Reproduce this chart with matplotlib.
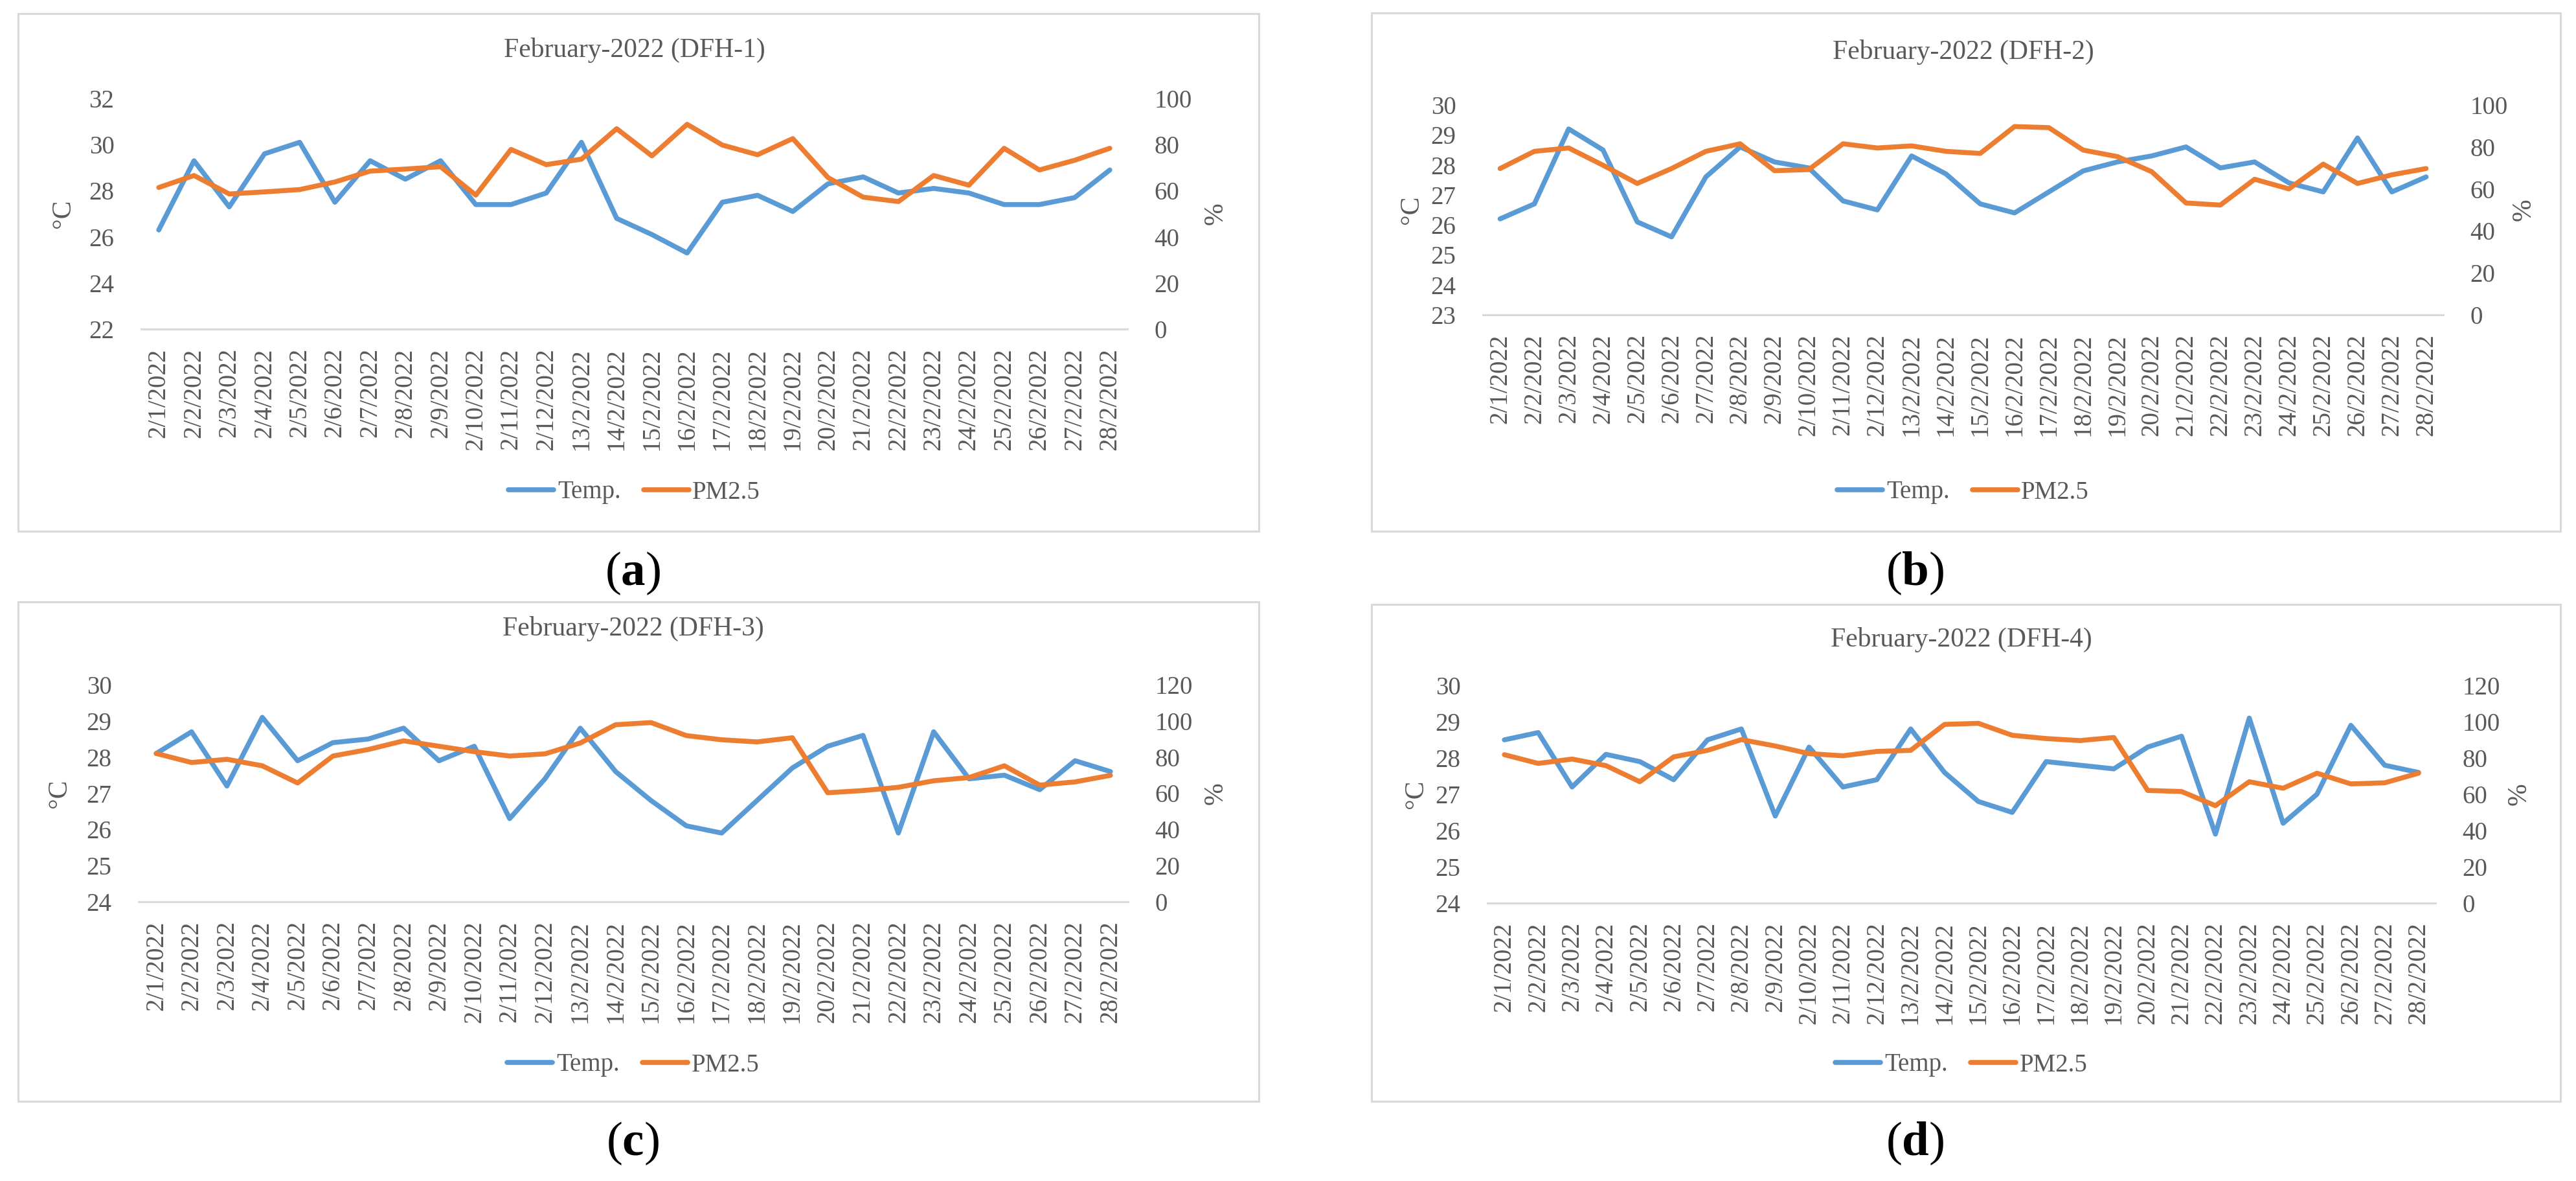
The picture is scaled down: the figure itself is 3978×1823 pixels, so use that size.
import matplotlib
matplotlib.use("Agg")
import matplotlib.pyplot as plt
from matplotlib.patches import Rectangle

plt.rcParams['font.family'] = ['Liberation Serif', 'DejaVu Serif']
plt.rcParams['mathtext.fontset'] = 'custom'
plt.rcParams['mathtext.rm'] = 'Liberation Serif'
plt.rcParams['mathtext.bf'] = 'Liberation Serif:bold'

dates = ['2/1/2022', '2/2/2022', '2/3/2022', '2/4/2022', '2/5/2022', '2/6/2022', '2/7/2022',
         '2/8/2022', '2/9/2022', '2/10/2022', '2/11/2022', '2/12/2022', '13/2/2022', '14/2/2022',
         '15/2/2022', '16/2/2022', '17/2/2022', '18/2/2022', '19/2/2022', '20/2/2022', '21/2/2022',
         '22/2/2022', '23/2/2022', '24/2/2022', '25/2/2022', '26/2/2022', '27/2/2022', '28/2/2022']

temp_a = [26.3, 29.3, 27.3, 29.6, 30.1, 27.5, 29.3, 28.5, 29.3, 27.4, 27.4, 27.9, 30.1, 26.8,
          26.1, 25.3, 27.5, 27.8, 27.1, 28.3, 28.6, 27.9, 28.1, 27.9, 27.4, 27.4, 27.7, 28.9]
pm_a = [61.4, 66.6, 58.6, 59.5, 60.5, 63.8, 68.5, 69.4, 70.4, 58.1, 77.9, 71.3, 73.7, 86.9,
        75.1, 88.8, 79.8, 75.6, 82.6, 65.7, 57.2, 55.3, 66.6, 62.4, 78.4, 69.0, 73.2, 78.4]

temp_b = [26.2, 26.7, 29.2, 28.5, 26.1, 25.6, 27.6, 28.6, 28.1, 27.9, 26.8, 26.5, 28.3, 27.7,
          26.7, 26.4, 27.1, 27.8, 28.1, 28.3, 28.6, 27.9, 28.1, 27.4, 27.1, 28.9, 27.1, 27.6]
pm_b = [69.7, 77.9, 79.5, 71.3, 62.6, 69.7, 77.9, 81.5, 68.7, 69.2, 81.5, 79.5, 80.5, 77.9,
        76.9, 89.7, 89.2, 78.5, 75.4, 68.2, 53.3, 52.3, 64.6, 60.0, 71.8, 62.6, 66.7, 69.7]

temp_c = [28.1, 28.7, 27.2, 29.1, 27.9, 28.4, 28.5, 28.8, 27.9, 28.3, 26.3, 27.4, 28.8, 27.6,
          26.8, 26.1, 25.9, 26.8, 27.7, 28.3, 28.6, 25.9, 28.7, 27.4, 27.5, 27.1, 27.9, 27.6]
pm_c = [82.0, 77.0, 78.8, 75.2, 65.7, 80.6, 84.2, 89.0, 86.0, 83.0, 80.6, 81.8, 87.8, 97.9,
        99.1, 91.9, 89.6, 88.4, 90.7, 60.3, 61.5, 63.3, 66.9, 68.7, 75.2, 64.5, 66.3, 69.9]

temp_d = [28.5, 28.7, 27.2, 28.1, 27.9, 27.4, 28.5, 28.8, 26.4, 28.3, 27.2, 27.4, 28.8, 27.6,
          26.8, 26.5, 27.9, 27.8, 27.7, 28.3, 28.6, 25.9, 29.1, 26.2, 27.0, 28.9, 27.8, 27.6]
pm_d = [81.8, 77.0, 79.4, 75.8, 66.9, 80.6, 84.2, 90.1, 86.6, 82.4, 81.2, 83.6, 84.2, 98.5,
        99.1, 92.5, 90.7, 89.6, 91.3, 62.1, 61.5, 53.7, 66.9, 63.3, 71.6, 65.7, 66.3, 71.6]

titles = ['February-2022 (DFH-1)', 'February-2022 (DFH-2)',
          'February-2022 (DFH-3)', 'February-2022 (DFH-4)']
letters = ['a', 'b', 'c', 'd']

W, H = 3978, 1823
BLUE = '#5B9BD5'
ORANGE = '#ED7D31'
TXT = '#595959'
GRID = '#D9D9D9'

# layout in pixels: box, axes area, title y, legend y, letter pos, y labels x
panels = [
    dict(temp=temp_a, pm=pm_a, box=(28, 21, 1944, 820), ax=(218, 152, 1741, 508),
         title_y=77, leg_y=760, lab=(977, 885), ylim=(22, 32), ystep=2, rlim=(0, 100),
         degx=98, pctx=1877),
    dict(temp=temp_b, pm=pm_b, box=(2118, 20, 3954, 820), ax=(2290, 162, 3773, 486),
         title_y=80, leg_y=760, lab=(2957, 885), ylim=(23, 30), ystep=1, rlim=(0, 100),
         degx=2180, pctx=3897),
    dict(temp=temp_c, pm=pm_c, box=(28, 929, 1944, 1700), ax=(214, 1057, 1742, 1392),
         title_y=970, leg_y=1644, lab=(977, 1765), ylim=(24, 30), ystep=1, rlim=(0, 120),
         degx=92, pctx=1877),
    dict(temp=temp_d, pm=pm_d, box=(2118, 933, 3954, 1700), ax=(2297, 1058, 3761, 1394),
         title_y=987, leg_y=1644, lab=(2957, 1765), ylim=(24, 30), ystep=1, rlim=(0, 120),
         degx=2187, pctx=3890),
]


def fx(px):
    return px / W


def fy(py):
    return 1 - py / H


fig = plt.figure(figsize=(W / 100, H / 100), dpi=100)

for i, p in enumerate(panels):
    bx0, by0, bx1, by1 = p['box']
    fig.patches.append(Rectangle((fx(bx0), fy(by1)), fx(bx1 - bx0), (by1 - by0) / H,
                                 transform=fig.transFigure, fill=False,
                                 edgecolor=GRID, linewidth=2.2))
    x0, y0, x1, y1 = p['ax']
    ax = fig.add_axes([fx(x0), fy(y1), fx(x1 - x0), (y1 - y0) / H])
    ax2 = ax.twinx()
    xs = list(range(len(dates)))
    l1, = ax.plot(xs, p['temp'], color=BLUE, lw=5.5, solid_joinstyle='round',
                  solid_capstyle='round', label='Temp.')
    l2, = ax2.plot(xs, p['pm'], color=ORANGE, lw=5.5, solid_joinstyle='round',
                   solid_capstyle='round', label='PM2.5')
    ax.set_xlim(-0.5, len(dates) - 0.5)
    ax.set_ylim(*p['ylim'])
    ax.set_yticks(range(p['ylim'][0], p['ylim'][1] + 1, p['ystep']))
    ax2.set_ylim(*p['rlim'])
    ax2.set_yticks(range(p['rlim'][0], p['rlim'][1] + 1, 20))
    ax.set_xticks(xs)
    ax.set_xticklabels(dates, rotation=90)
    for a in (ax, ax2):
        for s in a.spines.values():
            s.set_visible(False)
        a.tick_params(length=0, labelsize=28, labelcolor=TXT)
    ax.spines['bottom'].set_visible(True)
    ax.spines['bottom'].set_color(GRID)
    ax.spines['bottom'].set_linewidth(2.2)
    ax.tick_params(axis='y', pad=30)
    ax.tick_params(axis='x', pad=21)
    ax2.tick_params(axis='y', pad=30)

    yc = fy((y0 + y1) / 2)
    fig.text(fx(p['degx']), yc, '°C', rotation=90, ha='center', va='center',
             fontsize=30, color=TXT)
    fig.text(fx(p['pctx']), yc, '%', rotation=90, ha='center', va='center',
             fontsize=30, color=TXT)
    fig.text(fx((x0 + x1) / 2), fy(p['title_y']), titles[i], ha='center', va='center',
             fontsize=30, color=TXT)
    fig.legend(handles=[l1, l2], loc='center', bbox_to_anchor=(fx((x0 + x1) / 2), fy(p['leg_y'])),
               ncol=2, frameon=False, fontsize=28, handlelength=1.8, handletextpad=0.15,
               columnspacing=0.9, labelcolor=TXT)
    fig.text(fx(p['lab'][0]), fy(p['lab'][1]), r'($\mathbf{%s}$)' % letters[i],
             ha='center', va='center', fontsize=54, color='black')

fig.savefig('out.png', dpi=100)
